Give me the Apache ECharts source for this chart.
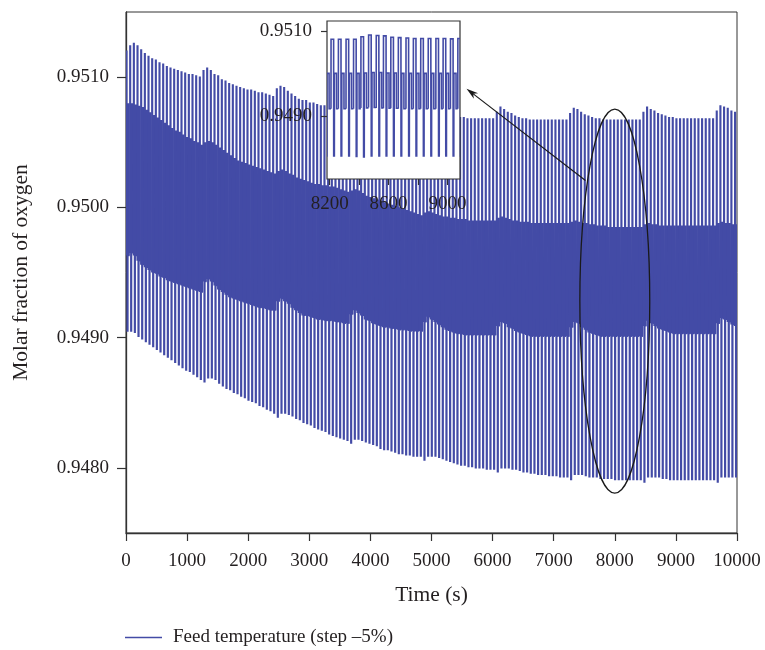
<!DOCTYPE html>
<html><head><meta charset="utf-8">
<script src="https://cdn.jsdelivr.net/npm/echarts@6/dist/echarts.min.js"></script>
<style>html,body{margin:0;padding:0;background:#fff}#c{width:765px;height:650px}</style>
</head><body><div id="c"></div>
<script>
// ---- data ----
const seriesName = 'Feed temperature (step \u20135%)';
const PERIOD = 60; // s, one switching cycle in the main plot
// per-cycle levels (cycle k starts at k*PERIOD)
const cycleTop = [
0.95120,0.95124,0.95126,0.95124,0.95121,0.95118,0.95116,0.95114,0.95113,0.95111,0.95110,0.95108,0.95107,0.95106,0.95105,0.95104,0.95103,0.95102,0.95102,0.95101,0.95100,
0.95105,0.95107,0.95105,0.95102,0.95101,0.95098,0.95097,0.95095,0.95094,0.95093,0.95092,0.95091,0.95090,0.95090,0.95089,0.95088,0.95088,0.95087,0.95086,0.95085,
0.95091,0.95093,0.95092,0.95089,0.95087,0.95085,0.95083,0.95082,0.95082,0.95080,0.95080,0.95079,0.95078,0.95078,0.95077,0.95077,0.95076,0.95076,0.95075,0.95075,
0.95080,0.95083,0.95082,0.95080,0.95078,0.95077,0.95076,0.95075,0.95074,0.95074,0.95073,0.95073,0.95072,0.95072,0.95072,0.95071,0.95071,0.95071,0.95070,0.95070,
0.95075,0.95078,0.95077,0.95075,0.95073,0.95072,0.95071,0.95070,0.95070,0.95069,0.95069,0.95069,0.95068,0.95068,0.95068,0.95068,0.95068,0.95068,0.95068,0.95068,
0.95073,0.95077,0.95075,0.95073,0.95072,0.95070,0.95069,0.95068,0.95068,0.95067,0.95067,0.95067,0.95067,0.95067,0.95067,0.95067,0.95067,0.95067,0.95067,0.95067,
0.95072,0.95076,0.95075,0.95073,0.95071,0.95070,0.95069,0.95068,0.95068,0.95067,0.95067,0.95067,0.95067,0.95067,0.95067,0.95067,0.95067,0.95067,0.95067,0.95067,
0.95073,0.95077,0.95075,0.95074,0.95072,0.95071,0.95070,0.95069,0.95069,0.95068,0.95068,0.95068,0.95068,0.95068,0.95068,0.95068,0.95068,0.95068,0.95068,0.95068,
0.95074,0.95078,0.95077,0.95076,0.95074,0.95073];
const cycleMid = [
0.95080,0.95080,0.95079,0.95078,0.95077,0.95075,0.95073,0.95071,0.95069,0.95067,0.95065,0.95063,0.95061,0.95059,0.95058,0.95056,0.95054,0.95053,0.95051,0.95050,0.95048,
0.95050,0.95051,0.95050,0.95048,0.95046,0.95044,0.95042,0.95040,0.95038,0.95036,0.95035,0.95034,0.95033,0.95032,0.95031,0.95030,0.95029,0.95028,0.95027,0.95026,
0.95028,0.95029,0.95028,0.95026,0.95025,0.95023,0.95022,0.95021,0.95020,0.95019,0.95018,0.95018,0.95017,0.95017,0.95016,0.95016,0.95015,0.95014,0.95013,0.95012,
0.95013,0.95014,0.95013,0.95011,0.95009,0.95008,0.95007,0.95006,0.95005,0.95004,0.95003,0.95002,0.95001,0.95000,0.94999,0.94998,0.94997,0.94996,0.94995,0.94994,
0.94996,0.94997,0.94996,0.94995,0.94994,0.94993,0.94993,0.94992,0.94992,0.94991,0.94991,0.94991,0.94990,0.94990,0.94990,0.94990,0.94990,0.94990,0.94990,0.94990,
0.94992,0.94993,0.94992,0.94991,0.94990,0.94990,0.94989,0.94989,0.94989,0.94988,0.94988,0.94988,0.94988,0.94988,0.94988,0.94988,0.94988,0.94988,0.94988,0.94988,
0.94989,0.94990,0.94989,0.94988,0.94988,0.94987,0.94987,0.94986,0.94986,0.94986,0.94985,0.94985,0.94985,0.94985,0.94985,0.94985,0.94985,0.94985,0.94985,0.94985,
0.94987,0.94988,0.94987,0.94987,0.94986,0.94986,0.94986,0.94986,0.94986,0.94986,0.94986,0.94986,0.94986,0.94986,0.94986,0.94986,0.94986,0.94986,0.94986,0.94986,
0.94988,0.94989,0.94988,0.94988,0.94987,0.94987];
const cycleLow = [
0.94963,0.94965,0.94963,0.94959,0.94956,0.94954,0.94952,0.94950,0.94949,0.94947,0.94946,0.94944,0.94943,0.94942,0.94941,0.94940,0.94939,0.94938,0.94937,0.94936,0.94935,
0.94943,0.94945,0.94943,0.94940,0.94937,0.94935,0.94933,0.94931,0.94930,0.94929,0.94928,0.94927,0.94926,0.94925,0.94924,0.94923,0.94923,0.94922,0.94921,0.94921,
0.94928,0.94930,0.94928,0.94926,0.94923,0.94921,0.94919,0.94917,0.94917,0.94916,0.94915,0.94914,0.94914,0.94913,0.94913,0.94913,0.94912,0.94912,0.94911,0.94911,
0.94918,0.94921,0.94919,0.94917,0.94914,0.94913,0.94911,0.94910,0.94909,0.94908,0.94908,0.94907,0.94907,0.94906,0.94906,0.94906,0.94905,0.94905,0.94905,0.94905,
0.94912,0.94916,0.94914,0.94912,0.94910,0.94908,0.94906,0.94905,0.94904,0.94903,0.94903,0.94902,0.94902,0.94902,0.94902,0.94902,0.94902,0.94902,0.94902,0.94902,
0.94909,0.94912,0.94911,0.94908,0.94907,0.94905,0.94904,0.94903,0.94902,0.94901,0.94901,0.94901,0.94901,0.94901,0.94901,0.94901,0.94901,0.94901,0.94901,0.94901,
0.94908,0.94912,0.94911,0.94908,0.94906,0.94904,0.94903,0.94902,0.94901,0.94901,0.94901,0.94901,0.94901,0.94901,0.94901,0.94901,0.94901,0.94901,0.94901,0.94901,
0.94909,0.94913,0.94911,0.94909,0.94907,0.94906,0.94905,0.94904,0.94903,0.94903,0.94903,0.94903,0.94903,0.94903,0.94903,0.94903,0.94903,0.94903,0.94903,0.94903,
0.94911,0.94915,0.94914,0.94912,0.94910,0.94909];
const cycleBottom = [
0.94905,0.94905,0.94904,0.94901,0.94899,0.94897,0.94895,0.94893,0.94891,0.94889,0.94887,0.94885,0.94883,0.94881,0.94879,0.94877,0.94875,0.94874,0.94872,0.94870,0.94868,
0.94866,0.94869,0.94869,0.94868,0.94865,0.94863,0.94861,0.94860,0.94858,0.94857,0.94855,0.94854,0.94852,0.94851,0.94850,0.94848,0.94847,0.94845,0.94844,0.94842,
0.94839,0.94842,0.94842,0.94841,0.94840,0.94838,0.94837,0.94835,0.94834,0.94833,0.94831,0.94830,0.94829,0.94828,0.94826,0.94825,0.94824,0.94823,0.94822,0.94821,
0.94819,0.94822,0.94822,0.94821,0.94820,0.94819,0.94818,0.94817,0.94815,0.94814,0.94814,0.94813,0.94812,0.94811,0.94811,0.94810,0.94810,0.94809,0.94809,0.94809,
0.94806,0.94809,0.94809,0.94809,0.94808,0.94807,0.94806,0.94805,0.94804,0.94803,0.94802,0.94802,0.94801,0.94801,0.94800,0.94800,0.94800,0.94799,0.94799,0.94799,
0.94797,0.94800,0.94800,0.94800,0.94799,0.94799,0.94798,0.94797,0.94797,0.94796,0.94796,0.94795,0.94795,0.94795,0.94794,0.94794,0.94794,0.94793,0.94793,0.94793,
0.94791,0.94795,0.94795,0.94795,0.94794,0.94793,0.94793,0.94793,0.94792,0.94792,0.94792,0.94792,0.94791,0.94791,0.94791,0.94791,0.94791,0.94791,0.94791,0.94791,
0.94789,0.94793,0.94793,0.94793,0.94793,0.94792,0.94792,0.94791,0.94791,0.94791,0.94791,0.94791,0.94791,0.94791,0.94791,0.94791,0.94791,0.94791,0.94791,0.94791,
0.94789,0.94793,0.94793,0.94793,0.94793,0.94793];
// waveform of one cycle: [seconds after cycle start ('end' = next cycle start), level]
const cycleShape = [[0,'L'],[1,'T'],[16,'T'],[17,'B'],[33,'B'],[34,'M'],[38,'L'],[42,'M'],[46,'L'],[50,'M'],[54,'L'],['end','L']];

// inset (zoom of 8200-9000 s): cycle start times and levels
const insetStart  = [8158,8209,8259,8311,8362,8412,8464,8516,8565,8615,8666,8718,8768,8818,8869,8921,8970,9020,9070];
const insetTop    = [0.95080,0.95080,0.95080,0.95080,0.95080,0.95086,0.95090,0.95089,0.95088,0.95085,0.95084,0.95083,0.95082,0.95082,0.95082,0.95082,0.95082,0.95081,0.95082];
const insetMid    = [0.95000,0.95000,0.95000,0.95000,0.95000,0.95001,0.95002,0.95002,0.95001,0.95001,0.95000,0.95000,0.95000,0.95000,0.95000,0.95000,0.95000,0.95000,0.95000];
const insetLow    = [0.94917,0.94917,0.94917,0.94917,0.94917,0.94919,0.94920,0.94919,0.94918,0.94918,0.94917,0.94917,0.94917,0.94917,0.94917,0.94917,0.94917,0.94917,0.94917];
const insetBottom = [0.94806,0.94806,0.94806,0.94806,0.94805,0.94804,0.94806,0.94806,0.94806,0.94806,0.94806,0.94806,0.94806,0.94806,0.94806,0.94806,0.94806,0.94806,0.94806];
const insetShape = [[0,'L'],[0.5,'T'],[18,'T'],[18.5,'B'],[23,'B'],[23.5,'M'],[38,'M'],[38.5,'L'],['end','L']];

// ticks / labels
const xTicks = [0,1000,2000,3000,4000,5000,6000,7000,8000,9000,10000];
const yTicks = [0.9480,0.9490,0.9500,0.9510];
const insetXTicks = [8200,8400,8600,8800,9000];
const insetXLabels = [8200,8600,9000];
const insetYTicks = [0.9490,0.9510];

// annotations (data coordinates of main plot)
const ellipseCenter = [8000, 0.94928];
const ellipseRadius = [572, 0.001474];
const arrowFrom = [7520, 0.950206];
const arrowTo = [5573, 0.950911];

// ---- build ----
const mainStarts = cycleTop.map((_, k) => k * PERIOD);
const mainRows = mainStarts.map((t, k) => [t, t + PERIOD, cycleTop[k], cycleMid[k], cycleLow[k], cycleBottom[k]]);
const insetRows = insetStart.map((t, k) => [t, k + 1 < insetStart.length ? insetStart[k + 1] : t + 51,
  insetTop[k], insetMid[k], insetLow[k], insetBottom[k]]);

const FONT = 'Liberation Serif';
const TXT = '#231f20';
const AX = '#333333';
const BLUE = '#434ba6';
const lbl = {fontFamily: FONT, fontSize: 19, color: TXT};
const plain = v => String(v);

function makeRender(shape, width) {
  return function (params, api) {
    const t0 = api.value(0), t1 = api.value(1);
    const lv = {T: api.value(2), M: api.value(3), L: api.value(4), B: api.value(5)};
    const pts = shape.map(([dt, key]) => api.coord([dt === 'end' ? t1 : t0 + dt, lv[key]]));
    return {type: 'polyline', shape: {points: pts},
      style: {stroke: BLUE, lineWidth: width, fill: null, lineJoin: 'miter'}};
  };
}

const chart = echarts.init(document.getElementById('c'), null, {renderer: 'canvas'});
chart.setOption({
  animation: false,
  backgroundColor: '#ffffff',
  grid: [
    {left: 126, right: 28, top: 12, bottom: 117, show: true, borderColor: AX, borderWidth: 1, backgroundColor: 'transparent', z: 0},
    {left: 327, top: 21, width: 133, height: 158, show: true, borderColor: AX, borderWidth: 1.2, backgroundColor: '#ffffff', z: 5}
  ],
  xAxis: [
    {type: 'value', gridIndex: 0, min: 0, max: 10000, interval: 1000,
     name: 'Time (s)', nameLocation: 'middle', nameGap: 51,
     nameTextStyle: {fontFamily: FONT, fontSize: 21.5, color: TXT},
     axisLine: {show: true, onZero: false, lineStyle: {color: AX, width: 1.3}},
     axisTick: {show: true, length: 8, lineStyle: {color: AX, width: 1.2}, customValues: xTicks},
     axisLabel: Object.assign({margin: 19, customValues: xTicks, formatter: plain}, lbl),
     splitLine: {show: false}},
    {type: 'value', gridIndex: 1, min: 8182, max: 9085, z: 6,
     axisLine: {show: false},
     axisTick: {show: true, length: 6, lineStyle: {color: AX, width: 1.2}, customValues: insetXTicks},
     axisLabel: Object.assign({margin: 16, customValues: insetXLabels, formatter: plain}, lbl),
     splitLine: {show: false}}
  ],
  yAxis: [
    {type: 'value', gridIndex: 0, min: 0.9475, max: 0.9515,
     name: 'Molar fraction of oxygen', nameLocation: 'middle', nameGap: 94,
     nameTextStyle: {fontFamily: FONT, fontSize: 21.5, color: TXT},
     axisLine: {show: true, onZero: false, lineStyle: {color: AX, width: 1.3}},
     axisTick: {show: true, length: 9, lineStyle: {color: AX, width: 1.2}, customValues: yTicks},
     axisLabel: Object.assign({margin: 17, customValues: yTicks, formatter: v => v.toFixed(4)}, lbl),
     splitLine: {show: false}},
    {type: 'value', gridIndex: 1, min: 0.94752, max: 0.95123, z: 6,
     axisLine: {show: false},
     axisTick: {show: true, length: 6, lineStyle: {color: AX, width: 1.2}, customValues: insetYTicks},
     axisLabel: Object.assign({margin: 15, customValues: insetYTicks, formatter: v => v.toFixed(4)}, lbl),
     splitLine: {show: false}}
  ],
  legend: {
    left: 120, top: 623, itemWidth: 37, itemHeight: 14, icon: 'path://M0,6 L37,6 L37,7.3 L0,7.3 Z',
    textStyle: {fontFamily: FONT, fontSize: 19, color: TXT, padding: [0, 0, 0, 6]},
    data: [seriesName]
  },
  series: [
    {name: seriesName, type: 'custom', xAxisIndex: 0, yAxisIndex: 0, data: mainRows, z: 1, clip: true,
     encode: {x: [0, 1], y: [2, 3, 4, 5]}, renderItem: makeRender(cycleShape, 1.2),
     itemStyle: {color: BLUE}},
    {name: 'inset', type: 'custom', xAxisIndex: 1, yAxisIndex: 1, data: insetRows, z: 6, clip: true,
     encode: {x: [0, 1], y: [2, 3, 4, 5]}, renderItem: makeRender(insetShape, 1.6),
     itemStyle: {color: BLUE}}
  ]
});

// annotations: ellipse and arrow
const c = chart.convertToPixel({gridIndex: 0}, ellipseCenter);
const e1 = chart.convertToPixel({gridIndex: 0}, [ellipseCenter[0] + ellipseRadius[0], ellipseCenter[1] + ellipseRadius[1]]);
const p0 = chart.convertToPixel({gridIndex: 0}, arrowFrom);
const p1 = chart.convertToPixel({gridIndex: 0}, arrowTo);
const dx = p1[0] - p0[0], dy = p1[1] - p0[1], len = Math.hypot(dx, dy);
const ux = dx / len, uy = dy / len, nx = -uy, ny = ux;
const HL = 12, HW = 3.5;
chart.setOption({
  graphic: [
    {type: 'ellipse', z: 20, shape: {cx: c[0], cy: c[1], rx: Math.abs(e1[0] - c[0]), ry: Math.abs(e1[1] - c[1])},
     style: {fill: 'none', stroke: '#1a1a1a', lineWidth: 1.3}},
    {type: 'line', z: 20, shape: {x1: p0[0], y1: p0[1], x2: p1[0] - ux * 6, y2: p1[1] - uy * 6},
     style: {stroke: '#1a1a1a', lineWidth: 1.2}},
    {type: 'polygon', z: 20, shape: {points: [
       [p1[0], p1[1]],
       [p1[0] - ux * HL + nx * HW, p1[1] - uy * HL + ny * HW],
       [p1[0] - ux * HL * 0.7, p1[1] - uy * HL * 0.7],
       [p1[0] - ux * HL - nx * HW, p1[1] - uy * HL - ny * HW]]},
     style: {fill: '#1a1a1a', stroke: 'none'}}
  ]
});
</script>
</body></html>
